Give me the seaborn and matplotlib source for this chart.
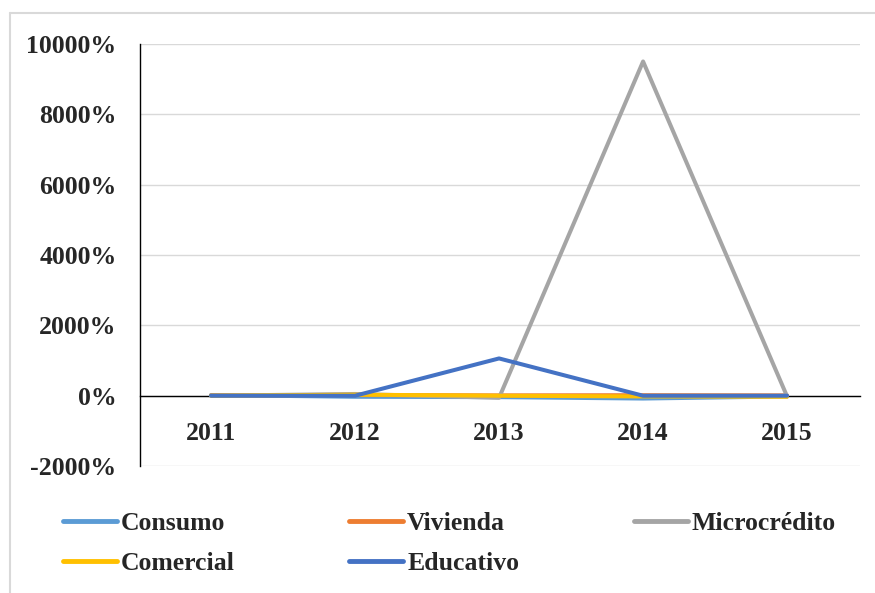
import matplotlib
matplotlib.use("Agg")
import matplotlib.pyplot as plt
import seaborn as sns
import pandas as pd
from matplotlib.lines import Line2D
from matplotlib.ticker import FuncFormatter

years = ["2011", "2012", "2013", "2014", "2015"]
consumo = [20, -30, -40, -80, -20]
vivienda = [10, 20, 10, 15, 10]
microcredito = [0, 50, -60, 9500, -20]
comercial = [0, 30, 0, -20, -30]
educativo = [0, 0, 1060, 0, 0]

series = {
    "Consumo": consumo,
    "Vivienda": vivienda,
    "Microcrédito": microcredito,
    "Comercial": comercial,
    "Educativo": educativo,
}
colors = ["#5B9BD5", "#ED7D31", "#A5A5A5", "#FFC000", "#4472C4"]

rows = []
for name, vals in series.items():
    for i, v in enumerate(vals):
        rows.append({"pos": i, "year": years[i], "serie": name, "valor": v})
df = pd.DataFrame(rows)

sns.set_style("white")
plt.rcParams["font.family"] = ["Liberation Serif", "DejaVu Serif"]
plt.rcParams["font.weight"] = "bold"

fig = plt.figure(figsize=(8.75, 5.93), dpi=100)
ax = fig.add_axes([0.16, 0.214, 0.823, 0.712])

sns.lineplot(data=df, x="pos", y="valor", hue="serie", palette=colors,
             hue_order=list(series.keys()), linewidth=2.9, ax=ax, legend=False,
             sort=False, estimator=None)

ax.set_xlim(-0.493, 4.507)
ax.set_ylim(-2000, 10000)
ax.set_yticks(range(-2000, 10001, 2000))
ax.yaxis.set_major_formatter(FuncFormatter(lambda v, p: f"{int(v)}%"))
ax.set_xticks(range(5))
ax.set_xticklabels(years)
ax.grid(axis="y", color="#D9D9D9", linewidth=1)
ax.set_axisbelow(True)
ax.set_xlabel("")
ax.set_ylabel("")

for s in ["top", "right"]:
    ax.spines[s].set_visible(False)
ax.spines["bottom"].set_position(("data", 0))
ax.spines["bottom"].set_color("black")
ax.spines["bottom"].set_linewidth(1)
ax.spines["bottom"].set_zorder(1)
ax.spines["left"].set_color("black")
ax.spines["left"].set_linewidth(1)
ax.tick_params(axis="x", length=0, pad=19, labelsize=18.5)
ax.tick_params(axis="y", length=0, pad=17, labelsize=18.5)
for lab in ax.get_xticklabels() + ax.get_yticklabels():
    lab.set_fontweight("bold")

# legend laid out row by row: matplotlib fills columns first
order = ["Consumo", "Comercial", "Vivienda", "Educativo", "Microcrédito"]
names = list(series.keys())
handles = [Line2D([], [], color=colors[names.index(n)], linewidth=3.5) for n in order]
fig.legend(handles, order, loc="upper left",
           bbox_to_anchor=(0.046, 0.175), ncol=3, frameon=False,
           prop={"size": 18.5, "weight": "bold"}, handlelength=2.1,
           handletextpad=0.15, columnspacing=4.45, labelspacing=0.65)

# light frame on the top and left edges of the figure
fig.add_artist(Line2D([10 / 875, 1], [1 - 13 / 593, 1 - 13 / 593],
                      transform=fig.transFigure, color="#D9D9D9", linewidth=1.5))
fig.add_artist(Line2D([10 / 875, 10 / 875], [0, 1 - 13 / 593],
                      transform=fig.transFigure, color="#D9D9D9", linewidth=1.5))

fig.savefig("out.png", dpi=100)
